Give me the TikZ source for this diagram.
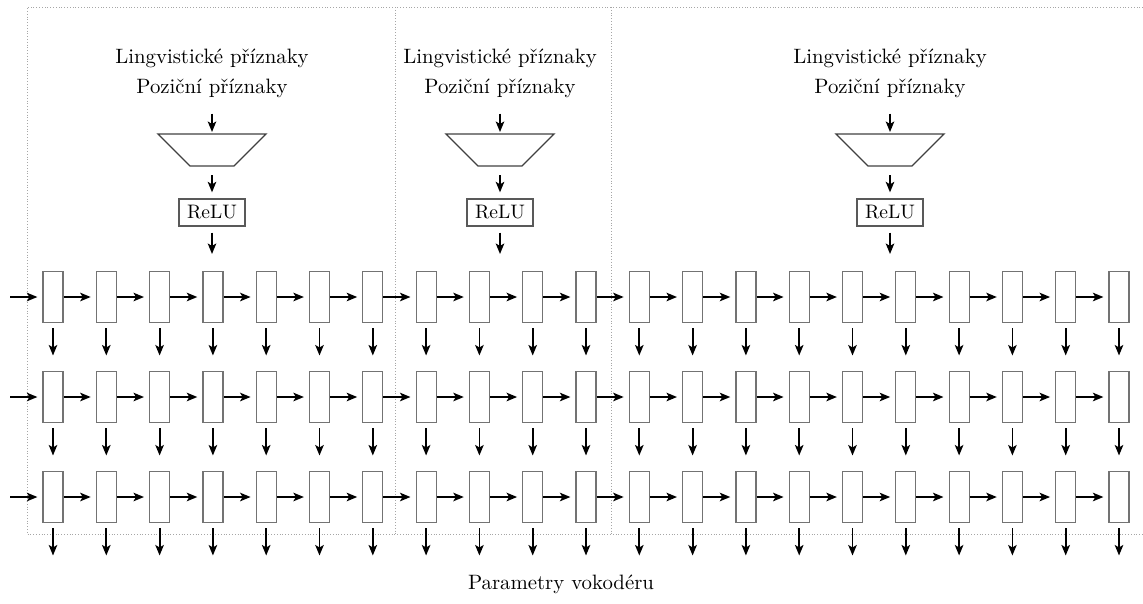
\documentclass[tikz,border=0pt]{standalone}
\usepackage{fontspec}
\usepackage{graphicx}
\usetikzlibrary{arrows.meta}
\newcommand{\bigtxt}[1]{\scalebox{2.08}{#1}}
\begin{document}
\begin{tikzpicture}[x=1pt,y=-1pt,
  cell/.style={draw=black!55, line width=1.2pt, minimum width=20pt, minimum height=51pt, inner sep=0pt},
  arr/.style={line width=1.8pt, -{Stealth[length=10.5pt,width=8.5pt,inset=2.5pt]}},
  frame/.style={draw=black!35, dotted, line width=0.8pt},
  lbl/.style={font=\fontsize{10}{30}\selectfont, align=center, inner sep=0pt, text=black},
  trap/.style={draw=black!75, line width=1.3pt, line join=miter},
  relu/.style={draw=black!65, line width=1.3pt, minimum width=66pt, minimum height=27pt, inner sep=0pt, font=\fontsize{10}{12}\selectfont, text=black}
]
\useasboundingbox (0,0) rectangle (1143,603);
% frames
\draw[frame] (1143,7) -- (27,7) -- (27,534) -- (1143,534);
\draw[frame] (395,7) -- (395,534);
\draw[frame] (611,7) -- (611,534);
% section heads
\foreach \s/\cx in {1/212,2/500,3/890} {
  \node[lbl] (txt\s) at (\cx,73) {\bigtxt{Lingvistické příznaky}\\\bigtxt{Poziční příznaky}};
  \coordinate (trapT\s) at (\cx,134);
  \coordinate (trapB\s) at (\cx,166);
  \draw[trap] (\cx-54,134) -- (\cx+54,134) -- (\cx+22,166) -- (\cx-22,166) -- cycle;
  \node[relu] (relu\s) at (\cx,212.5) {\scalebox{1.95}{ReLU}};
  \coordinate (rend\s) at (\cx,254);
  \draw[arr, shorten <=16pt, shorten >=2pt] (txt\s) -- (trapT\s);
  \draw[arr, shorten <=9pt, shorten >=6pt] (trapB\s) -- (relu\s);
  \draw[arr, shorten <=6pt] (relu\s) -- (rend\s);
}
% recurrent grid
\foreach \r/\ry in {1/297,2/397,3/497} {
  \foreach \c in {0,...,20} {
    \pgfmathsetmacro\cx{53+53.3*\c}
    \node[cell] (b-\r-\c) at (\cx,\ry) {};
    \coordinate (o-\r-\c) at (\cx,\ry+58.5);
    \draw[arr, shorten <=5pt] (b-\r-\c) -- (o-\r-\c);
  }
  \coordinate (in-\r) at (10,\ry);
  \draw[arr, shorten >=5pt] (in-\r) -- (b-\r-0);
  \foreach \c [evaluate=\c as \n using int(\c+1)] in {0,...,19}
    \draw[arr, shorten >=5pt] (b-\r-\c) -- (b-\r-\n);
}
\node[lbl] (out) at (561,584) {\bigtxt{Parametry vokodéru}};
\end{tikzpicture}
\end{document}
